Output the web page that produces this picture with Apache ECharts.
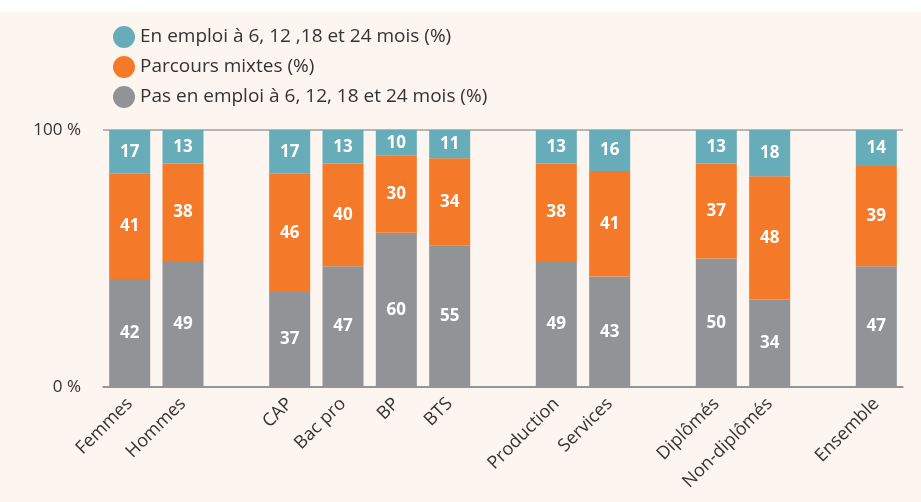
<!DOCTYPE html>
<html>
<head>
<meta charset="utf-8">
<script src="https://cdn.jsdelivr.net/npm/echarts@6/dist/echarts.min.js"></script>
<style>
  html, body { margin: 0; padding: 0; background: #ffffff; }
  #chart { width: 921px; height: 502px; }
</style>
</head>
<body>
<div id="chart"></div>
<script>
// '' entries are empty slots that separate the groups
const categories = ['Femmes', 'Hommes', '', 'CAP', 'Bac pro', 'BP', 'BTS', '', 'Production', 'Services', '', 'Diplômés', 'Non-diplômés', '', 'Ensemble'];

const enEmploi = [17, 13, '-', 17, 13, 10, 11, '-', 13, 16, '-', 13, 18, '-', 14];
const mixtes = [41, 38, '-', 46, 40, 30, 34, '-', 38, 41, '-', 37, 48, '-', 39];
const pasEnEmploi = [42, 49, '-', 37, 47, 60, 55, '-', 49, 43, '-', 50, 34, '-', 47];

const seriesNames = [
  'En emploi à 6, 12 ,18 et 24 mois (%)',
  'Parcours mixtes (%)',
  'Pas en emploi à 6, 12, 18 et 24 mois (%)'
];

const yTickLabels = { 0: '0 %', 100: '100 %' };

const FONT = '"Open Sans", Lato, sans-serif';

function barSeries(name, data, color) {
  return {
    name,
    type: 'bar',
    stack: 'total',
    barWidth: 41,
    data,
    itemStyle: { color },
    label: {
      show: true,
      position: 'inside',
      color: '#ffffff',
      fontFamily: FONT,
      fontWeight: 'bold',
      fontSize: 17
    }
  };
}

const chart = echarts.init(document.getElementById('chart'));

chart.setOption({
  backgroundColor: '#ffffff',
  graphic: [{
    type: 'rect',
    z: -10,
    shape: { x: 0, y: 12, width: 921, height: 490 },
    style: { fill: '#fdf5ef' }
  }],
  textStyle: { fontFamily: FONT },
  legend: {
    orient: 'vertical',
    left: 108,
    top: 21,
    icon: 'circle',
    itemWidth: 22,
    itemHeight: 22,
    itemGap: 8,
    data: seriesNames,
    textStyle: { fontSize: 19, color: '#333333', fontFamily: FONT }
  },
  grid: { left: 103, right: 18, top: 130, bottom: 115 },
  xAxis: {
    type: 'category',
    data: categories,
    axisLine: { lineStyle: { color: '#8a8a8a', width: 1.5 } },
    axisTick: { show: false },
    axisLabel: {
      rotate: 45,
      interval: 0,
      margin: 14,
      fontSize: 18,
      color: '#333333',
      fontFamily: FONT
    }
  },
  yAxis: {
    type: 'value',
    min: 0,
    max: 100,
    interval: 100,
    axisLine: { show: false },
    axisTick: { show: false },
    splitLine: { lineStyle: { color: '#a0a0a0', width: 1.5 } },
    axisLabel: {
      margin: 22,
      fontSize: 17,
      color: '#333333',
      fontFamily: FONT,
      formatter: (v) => yTickLabels[v] || ''
    }
  },
  series: [
    barSeries(seriesNames[2], pasEnEmploi, '#929396'),
    barSeries(seriesNames[1], mixtes, '#f47a2a'),
    barSeries(seriesNames[0], enEmploi, '#67adb9')
  ]
});
</script>
</body>
</html>
